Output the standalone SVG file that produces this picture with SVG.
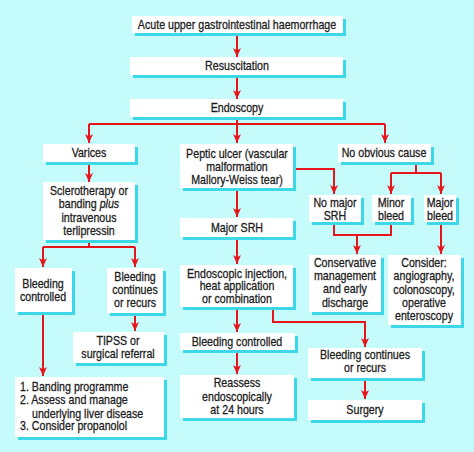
<svg xmlns="http://www.w3.org/2000/svg" width="474" height="452" viewBox="0 0 474 452">
<defs>
<style>
.sh{fill:#3cd8e8}
.bx{fill:#ffffff}
text{font-family:"Liberation Sans",Arial,sans-serif;font-size:13px;fill:#1c1c1c;stroke:#1c1c1c;stroke-width:0.3;text-anchor:middle}
.l{text-anchor:start}
.c{fill:none;stroke:#e8141c;stroke-width:2}
</style>
<marker id="a" markerUnits="userSpaceOnUse" markerWidth="8" markerHeight="9" refX="4" refY="9" orient="0" viewBox="0 0 8 9">
<path d="M0,0 L4,2.5 L8,0 L4,9 Z" fill="#e8141c"/>
</marker>
</defs>
<rect x="0" y="0" width="474" height="452" fill="#c6fbfb"/>
<g id="connectors" class="c">
<path d="M237,33 V57" marker-end="url(#a)"/>
<path d="M237,75 V99" marker-end="url(#a)"/>
<path d="M237,117 V143" marker-end="url(#a)"/>
<path d="M89,124 H385"/>
<path d="M89,124 V143" marker-end="url(#a)"/>
<path d="M385,124 V143" marker-end="url(#a)"/>
<path d="M89,162 V182" marker-end="url(#a)"/>
<path d="M89,240 V247"/>
<path d="M43,247 H135"/>
<path d="M43,247 V267" marker-end="url(#a)"/>
<path d="M135,247 V267" marker-end="url(#a)"/>
<path d="M43,312 V376" marker-end="url(#a)"/>
<path d="M135,313 V331" marker-end="url(#a)"/>
<path d="M293,169 H334 V194" marker-end="url(#a)"/>
<path d="M237,188 V217" marker-end="url(#a)"/>
<path d="M237,237 V264" marker-end="url(#a)"/>
<path d="M237,307 V332" marker-end="url(#a)"/>
<path d="M237,350 V374" marker-end="url(#a)"/>
<path d="M273,307 V322 H365 V347" marker-end="url(#a)"/>
<path d="M365,378 V399" marker-end="url(#a)"/>
<path d="M416,162 V173"/>
<path d="M391,173 H441"/>
<path d="M391,173 V194" marker-end="url(#a)"/>
<path d="M441,173 V194" marker-end="url(#a)"/>
<path d="M334,222 V235 H391 V222"/>
<path d="M357,235 V254" marker-end="url(#a)"/>
<path d="M441,222 V254" marker-end="url(#a)"/>
</g>
<g id="n1"><rect class="sh" x="135" y="19" width="211" height="17"/><rect class="bx" x="132" y="16" width="211" height="17"/><text transform="translate(237,29) scale(.82,1)">Acute upper gastrointestinal haemorrhage</text></g>
<g id="n2"><rect class="sh" x="133" y="60" width="213" height="18"/><rect class="bx" x="130" y="57" width="213" height="18"/><text transform="translate(237,70) scale(.82,1)">Resuscitation</text></g>
<g id="n3"><rect class="sh" x="133" y="102" width="213" height="18"/><rect class="bx" x="130" y="99" width="213" height="18"/><text transform="translate(237,112) scale(.82,1)">Endoscopy</text></g>
<g id="n4"><rect class="sh" x="46" y="147" width="92" height="18"/><rect class="bx" x="43" y="144" width="92" height="18"/><text transform="translate(89,157) scale(.82,1)">Varices</text></g>
<g id="n5"><rect class="sh" x="183" y="147" width="113" height="44"/><rect class="bx" x="180" y="144" width="113" height="44"/><text transform="translate(237,158) scale(.82,1)">Peptic ulcer (vascular</text><text transform="translate(237,171) scale(.82,1)">malformation</text><text transform="translate(237,184) scale(.82,1)">Mallory-Weiss tear)</text></g>
<g id="n6"><rect class="sh" x="341" y="147" width="93" height="18"/><rect class="bx" x="338" y="144" width="93" height="18"/><text transform="translate(384,157) scale(.82,1)">No obvious cause</text></g>
<g id="n7"><rect class="sh" x="46" y="185" width="92" height="58"/><rect class="bx" x="43" y="182" width="92" height="58"/><text transform="translate(89,195) scale(.82,1)">Sclerotherapy or</text><text transform="translate(89,208) scale(.82,1)">banding <tspan font-style="italic">plus</tspan></text><text transform="translate(89,222) scale(.82,1)">intravenous</text><text transform="translate(89,235) scale(.82,1)">terlipressin</text></g>
<g id="n8"><rect class="sh" x="312" y="198" width="52" height="27"/><rect class="bx" x="309" y="195" width="52" height="27"/><text transform="translate(335,207) scale(.82,1)">No major</text><text transform="translate(335,220) scale(.82,1)">SRH</text></g>
<g id="n9"><rect class="sh" x="375" y="198" width="39" height="27"/><rect class="bx" x="372" y="195" width="39" height="27"/><text transform="translate(391,207) scale(.82,1)">Minor</text><text transform="translate(391,220) scale(.82,1)">bleed</text></g>
<g id="n10"><rect class="sh" x="427" y="198" width="32" height="27"/><rect class="bx" x="424" y="195" width="32" height="27"/><text transform="translate(440,207) scale(.82,1)">Major</text><text transform="translate(440,220) scale(.82,1)">bleed</text></g>
<g id="n11"><rect class="sh" x="183" y="221" width="113" height="19"/><rect class="bx" x="180" y="218" width="113" height="19"/><text transform="translate(237,232) scale(.82,1)">Major SRH</text></g>
<g id="n12"><rect class="sh" x="18" y="271" width="57" height="44"/><rect class="bx" x="15" y="268" width="57" height="44"/><text transform="translate(43,288) scale(.82,1)">Bleeding</text><text transform="translate(43,301) scale(.82,1)">controlled</text></g>
<g id="n13"><rect class="sh" x="110" y="271" width="56" height="45"/><rect class="bx" x="107" y="268" width="56" height="45"/><text transform="translate(135,281) scale(.82,1)">Bleeding</text><text transform="translate(135,294) scale(.82,1)">continues</text><text transform="translate(135,307) scale(.82,1)">or recurs</text></g>
<g id="n14"><rect class="sh" x="183" y="268" width="113" height="42"/><rect class="bx" x="180" y="265" width="113" height="42"/><text transform="translate(237,278) scale(.82,1)">Endoscopic injection,</text><text transform="translate(237,290) scale(.82,1)">heat application</text><text transform="translate(237,303) scale(.82,1)">or combination</text></g>
<g id="n15"><rect class="sh" x="312" y="258" width="72" height="57"/><rect class="bx" x="309" y="255" width="72" height="57"/><text transform="translate(345,267) scale(.82,1)">Conservative</text><text transform="translate(345,280) scale(.82,1)">management</text><text transform="translate(345,293) scale(.82,1)">and early</text><text transform="translate(345,307) scale(.82,1)">discharge</text></g>
<g id="n16"><rect class="sh" x="391" y="258" width="73" height="70"/><rect class="bx" x="388" y="255" width="73" height="70"/><text transform="translate(424,267) scale(.82,1)">Consider:</text><text transform="translate(424,280) scale(.82,1)">angiography,</text><text transform="translate(424,294) scale(.82,1)">colonoscopy,</text><text transform="translate(424,307) scale(.82,1)">operative</text><text transform="translate(424,320) scale(.82,1)">enteroscopy</text></g>
<g id="n17"><rect class="sh" x="76" y="335" width="91" height="31"/><rect class="bx" x="73" y="332" width="91" height="31"/><text transform="translate(118,345) scale(.82,1)">TIPSS or</text><text transform="translate(118,358) scale(.82,1)">surgical referral</text></g>
<g id="n18"><rect class="sh" x="183" y="336" width="115" height="17"/><rect class="bx" x="180" y="333" width="115" height="17"/><text transform="translate(237,346) scale(.82,1)">Bleeding controlled</text></g>
<g id="n19"><rect class="sh" x="311" y="351" width="114" height="30"/><rect class="bx" x="308" y="348" width="114" height="30"/><text transform="translate(365,359) scale(.82,1)">Bleeding continues</text><text transform="translate(365,372) scale(.82,1)">or recurs</text></g>
<g id="n20"><rect class="sh" x="183" y="378" width="114" height="43"/><rect class="bx" x="180" y="375" width="114" height="43"/><text transform="translate(237,387) scale(.82,1)">Reassess</text><text transform="translate(237,401) scale(.82,1)">endoscopically</text><text transform="translate(237,414) scale(.82,1)">at 24 hours</text></g>
<g id="n21"><rect class="sh" x="311" y="403" width="114" height="20"/><rect class="bx" x="308" y="400" width="114" height="20"/><text transform="translate(365,414) scale(.82,1)">Surgery</text></g>
<g id="n22"><rect class="sh" x="18" y="380" width="149" height="60"/><rect class="bx" x="15" y="377" width="149" height="60"/><text class="l" transform="translate(20,391) scale(.82,1)">1. Banding programme</text><text class="l" transform="translate(20,404) scale(.82,1)">2. Assess and manage</text><text class="l" transform="translate(32,418) scale(.82,1)">underlying liver disease</text><text class="l" transform="translate(20,430) scale(.82,1)">3. Consider propanolol</text></g>
</svg>
